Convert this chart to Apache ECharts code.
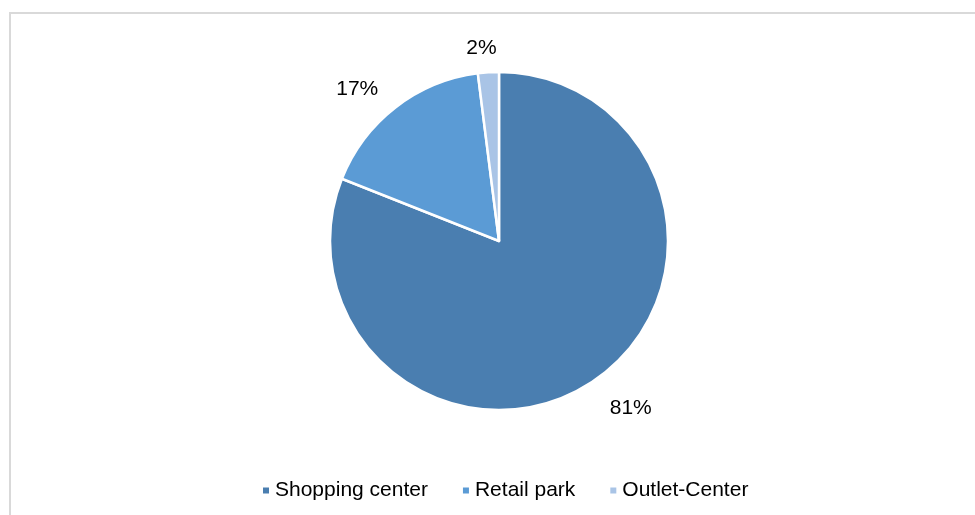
<!DOCTYPE html>
<html>
<head>
<meta charset="utf-8">
<script src="https://cdn.jsdelivr.net/npm/echarts@6/dist/echarts.min.js"></script>
<style>
html,body{margin:0;padding:0;background:#fff;}
#c{width:975px;height:515px;}
</style>
</head>
<body>
<div id="c"></div>
<script>
const categories = ["Shopping center", "Retail park", "Outlet-Center"];
const values = [81, 17, 2];
const colors = ["#4A7EB0", "#5B9BD5", "#A9C4E6"];

const chart = echarts.init(document.getElementById('c'), null, {renderer: 'canvas'});
chart.setOption({
  animation: false,
  backgroundColor: '#fff',
  color: colors,
  graphic: [{
    type: 'rect',
    shape: {x: 10, y: 13, width: 1000, height: 600},
    style: {fill: 'none', stroke: '#d9d9d9', lineWidth: 2},
    silent: true
  }],
  legend: {
    top: 480,
    left: 261,
    padding: 0,
    icon: 'rect',
    itemWidth: 8,
    itemHeight: 8,
    itemGap: 33,
    textStyle: {fontFamily: 'Liberation Sans, Arial', fontSize: 21, color: '#000'},
    data: categories
  },
  series: [{
    type: 'pie',
    center: [499, 241],
    radius: 169,
    startAngle: 90,
    clockwise: true,
    itemStyle: {borderColor: '#fff', borderWidth: 2.5},
    label: {
      show: true,
      position: 'outside',
      formatter: '{d}%',
      fontFamily: 'Liberation Sans, Arial',
      fontSize: 21,
      color: '#000',
      distanceToLabelLine: 0
    },
    labelLine: {show: false, length: 28, length2: 0},
    labelLayout: function (p) {
      if (p.dataIndex === 2) return {dx: 10, dy: 4};
      return {dy: 4};
    },
    data: categories.map((n, i) => ({name: n, value: values[i]}))
  }]
});
</script>
</body>
</html>
